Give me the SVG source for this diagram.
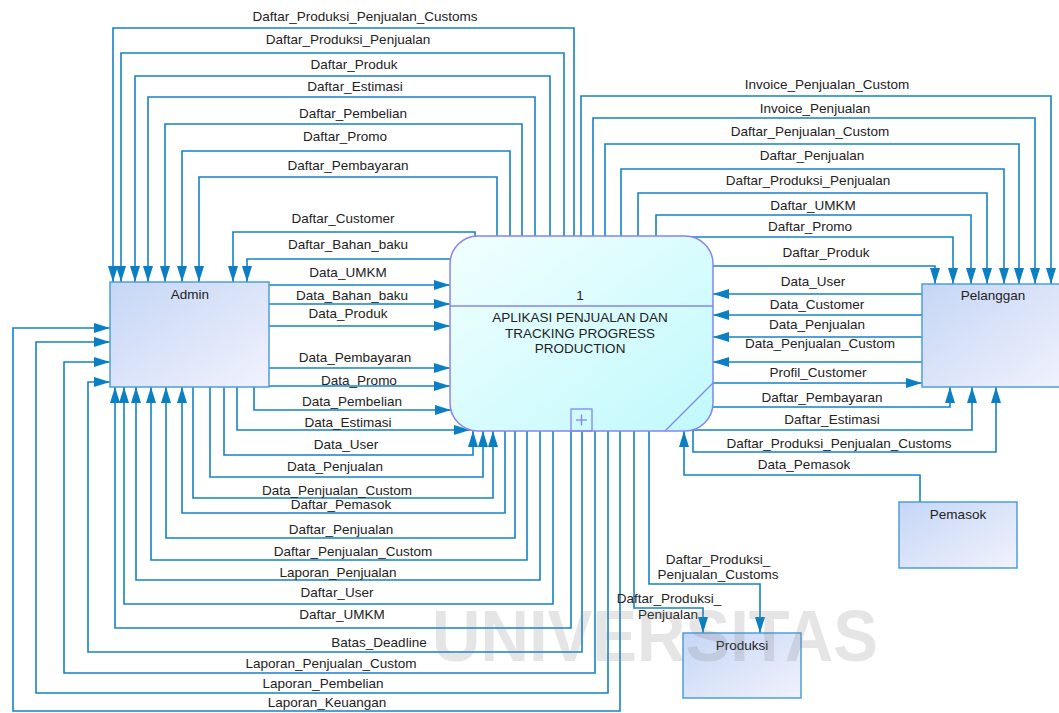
<svg xmlns="http://www.w3.org/2000/svg" width="1059" height="713" viewBox="0 0 1059 713">
  <defs>
    <linearGradient id="gEnt" x1="0" y1="0" x2="1" y2="1">
      <stop offset="0" stop-color="#c5d6f5"/>
      <stop offset="1" stop-color="#f1f2fd"/>
    </linearGradient>
    <linearGradient id="gProc" x1="0" y1="0" x2="1" y2="1">
      <stop offset="0" stop-color="#f2ffff"/>
      <stop offset="1" stop-color="#c0f9fc"/>
    </linearGradient>
    <marker id="arr" markerWidth="16" markerHeight="10" refX="16" refY="5" orient="auto" markerUnits="userSpaceOnUse">
      <path d="M0,0 L16,5 L0,10 Z" fill="#0a7fc3"/>
    </marker>
  </defs>
  <style>
    .ent { fill: url(#gEnt); stroke: #4d9fd9; stroke-width: 1.5; }
    .proc { fill: url(#gProc); stroke: #8585f2; stroke-width: 1.5; }
    .pl { fill: none; stroke: #8585f2; stroke-width: 1.3; }
    .f { fill: none; stroke: #1683c6; stroke-width: 1.6; marker-end: url(#arr); }
    text { font-family: "Liberation Sans", Arial, sans-serif; font-size: 13.5px; fill: #222; text-anchor: middle; }
    .wm { font-family: "Liberation Sans", Arial, sans-serif; font-weight: bold; font-size: 72px; fill: #808080; opacity: 0.2; text-anchor: start; }
  </style>
  <rect width="1059" height="713" fill="#ffffff"/>

  <!-- connectors -->
  <g id="connectors">
    <!-- process to Admin (top) -->
    <path class="f" d="M574,236 V28 H113 V282"/>
    <path class="f" d="M564,236 V53 H121 V282"/>
    <path class="f" d="M550,236 V76 H135 V282"/>
    <path class="f" d="M535,236 V97 H148 V282"/>
    <path class="f" d="M522,236 V124 H165 V282"/>
    <path class="f" d="M510,236 V151 H182 V282"/>
    <path class="f" d="M497,236 V177 H199 V282"/>
    <path class="f" d="M475,237 V232 H233 V282"/>
    <path class="f" d="M451,259 H247 V282"/>
    <!-- Admin to process -->
    <path class="f" d="M269,285 H450"/>
    <path class="f" d="M269,304 H450"/>
    <path class="f" d="M269,326 H450"/>
    <path class="f" d="M269,368 H450"/>
    <path class="f" d="M269,386 H450"/>
    <path class="f" d="M254,387 V410 H451"/>
    <path class="f" d="M237,387 V430 H470"/>
    <path class="f" d="M224,387 V455 H473 V431"/>
    <path class="f" d="M210,387 V477 H483 V431"/>
    <path class="f" d="M193,387 V498 H493 V431"/>
    <!-- process to Admin (bottom / left) -->
    <path class="f" d="M505,431 V513 H182 V387"/>
    <path class="f" d="M515,431 V538 H166 V387"/>
    <path class="f" d="M527,431 V560 H151 V387"/>
    <path class="f" d="M540,431 V580 H136 V387"/>
    <path class="f" d="M553,431 V604 H124 V387"/>
    <path class="f" d="M571,431 V628 H115 V387"/>
    <path class="f" d="M582,431 V652 H88 V382 H110"/>
    <path class="f" d="M595,431 V673 H64 V362 H110"/>
    <path class="f" d="M608,431 V693 H36 V342 H110"/>
    <path class="f" d="M620,431 V711 H13 V328 H110"/>
    <!-- process to Produksi -->
    <path class="f" d="M634,431 V608 H703 V633"/>
    <path class="f" d="M649,431 V584 H760 V633"/>
    <!-- process to Pelanggan (top) -->
    <path class="f" d="M581,236 V96 H1051 V284"/>
    <path class="f" d="M593,236 V118 H1035 V284"/>
    <path class="f" d="M605,236 V144 H1019 V284"/>
    <path class="f" d="M621,236 V169 H1004 V284"/>
    <path class="f" d="M638,236 V193 H987 V284"/>
    <path class="f" d="M656,236 V215 H971 V284"/>
    <path class="f" d="M692,237 H953 V284"/>
    <path class="f" d="M713,266 H935 V284"/>
    <!-- Pelanggan to process -->
    <path class="f" d="M922,294 H713"/>
    <path class="f" d="M922,315 H713"/>
    <path class="f" d="M922,337 H713"/>
    <path class="f" d="M922,362 H713"/>
    <!-- process to Pelanggan (side / bottom) -->
    <path class="f" d="M713,383 H922"/>
    <path class="f" d="M713,407 H950 V387"/>
    <path class="f" d="M692,430 H972 V387"/>
    <path class="f" d="M693,430 V452 H996 V387"/>
    <!-- Pemasok to process -->
    <path class="f" d="M920,502 V475 H684 V431"/>
  </g>

  <!-- flow labels -->
  <g id="labels">
    <text x="365" y="21">Daftar_Produksi_Penjualan_Customs</text>
    <text x="348" y="44">Daftar_Produksi_Penjualan</text>
    <text x="354" y="69">Daftar_Produk</text>
    <text x="355" y="91">Daftar_Estimasi</text>
    <text x="353" y="118">Daftar_Pembelian</text>
    <text x="345" y="141">Daftar_Promo</text>
    <text x="348" y="170">Daftar_Pembayaran</text>
    <text x="343" y="223">Daftar_Customer</text>
    <text x="348" y="249">Daftar_Bahan_baku</text>
    <text x="348" y="277">Data_UMKM</text>
    <text x="352" y="300">Data_Bahan_baku</text>
    <text x="348" y="318">Data_Produk</text>
    <text x="355" y="362">Data_Pembayaran</text>
    <text x="359" y="385">Data_Promo</text>
    <text x="352" y="406">Data_Pembelian</text>
    <text x="348" y="427">Data_Estimasi</text>
    <text x="346" y="449">Data_User</text>
    <text x="335" y="471">Data_Penjualan</text>
    <text x="337" y="495">Data_Penjualan_Custom</text>
    <text x="341" y="509">Daftar_Pemasok</text>
    <text x="341" y="534">Daftar_Penjualan</text>
    <text x="353" y="556">Daftar_Penjualan_Custom</text>
    <text x="338" y="577">Laporan_Penjualan</text>
    <text x="337" y="597">Daftar_User</text>
    <text x="342" y="619">Daftar_UMKM</text>
    <text x="379" y="647">Batas_Deadline</text>
    <text x="331" y="668">Laporan_Penjualan_Custom</text>
    <text x="323" y="688">Laporan_Pembelian</text>
    <text x="327" y="707">Laporan_Keuangan</text>

    <text x="827" y="89">Invoice_Penjualan_Custom</text>
    <text x="815" y="113">Invoice_Penjualan</text>
    <text x="810" y="136">Daftar_Penjualan_Custom</text>
    <text x="812" y="160">Daftar_Penjualan</text>
    <text x="808" y="185">Daftar_Produksi_Penjualan</text>
    <text x="813" y="210">Daftar_UMKM</text>
    <text x="810" y="231">Daftar_Promo</text>
    <text x="826" y="257">Daftar_Produk</text>
    <text x="813" y="286">Data_User</text>
    <text x="817" y="309">Data_Customer</text>
    <text x="817" y="329">Data_Penjualan</text>
    <text x="820" y="348">Data_Penjualan_Custom</text>
    <text x="818" y="377">Profil_Customer</text>
    <text x="822" y="402">Daftar_Pembayaran</text>
    <text x="832" y="424">Daftar_Estimasi</text>
    <text x="839" y="448">Daftar_Produksi_Penjualan_Customs</text>
    <text x="804" y="469">Data_Pemasok</text>

    <text x="718" y="564">Daftar_Produksi_</text>
    <text x="718" y="579">Penjualan_Customs</text>
    <text x="669" y="603">Daftar_Produksi_</text>
    <text x="668" y="619">Penjualan</text>
  </g>

  <!-- external entities -->
  <g id="admin">
    <rect class="ent" x="110" y="282" width="159" height="105"/>
    <text x="190" y="299">Admin</text>
  </g>
  <g id="pelanggan">
    <rect class="ent" x="922" y="284" width="145" height="103"/>
    <text x="993" y="300">Pelanggan</text>
  </g>
  <g id="pemasok">
    <rect class="ent" x="899" y="502" width="118" height="66"/>
    <text x="958" y="519">Pemasok</text>
  </g>
  <g id="produksi">
    <rect class="ent" x="683" y="633" width="118" height="65"/>
    <text x="742" y="650">Produksi</text>
  </g>

  <!-- process 1 -->
  <g id="process1">
    <rect class="proc" x="450" y="236" width="263" height="195" rx="28" ry="28"/>
    <line class="pl" x1="450" y1="306" x2="713" y2="306"/>
    <line class="pl" x1="665" y1="431" x2="713" y2="383"/>
    <rect class="pl" x="571" y="409" width="21" height="22"/>
    <line class="pl" x1="576" y1="420" x2="587" y2="420"/>
    <line class="pl" x1="581.5" y1="414.5" x2="581.5" y2="425.5"/>
    <text x="580" y="300">1</text>
    <text x="580" y="322">APLIKASI PENJUALAN DAN</text>
    <text x="580" y="338">TRACKING PROGRESS</text>
    <text x="580" y="353">PRODUCTION</text>
  </g>

  <!-- faint background stamp -->
  <text class="wm" x="432" y="661" textLength="446" lengthAdjust="spacingAndGlyphs">UNIVERSITAS</text>
</svg>
